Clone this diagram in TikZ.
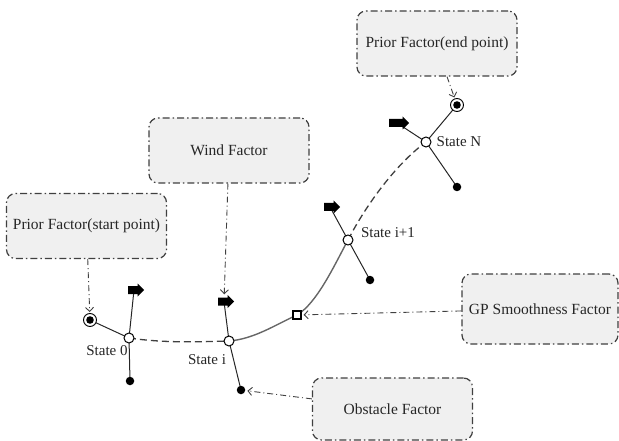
\documentclass[tikz,border=0pt]{standalone}
\usepackage{fontspec}
\setmainfont{Liberation Serif}
\usetikzlibrary{shapes.arrows,arrows.meta,calc,backgrounds}
\begin{document}
\begin{tikzpicture}[x=1pt,y=-1pt,
 factor/.style={draw=black!75, line width=1.2pt, dash pattern=on 7pt off 3pt on 1.5pt off 3pt, rounded corners=9pt, fill=black!6, minimum width=160pt, minimum height=65pt, text=black!85, font=\fontsize{15.5}{18}\selectfont},
 state/.style={circle, draw=black, line width=1pt, fill=white, minimum size=10pt, inner sep=0pt},
 dot/.style={circle, fill=black, minimum size=8.5pt, inner sep=0pt},
 prior/.style={circle, draw=black, line width=0.9pt, fill=white, minimum size=13pt, inner sep=0pt, path picture={\fill[black] (path picture bounding box.center) circle (3.8pt);}},
 sqnode/.style={rectangle, draw=black, line width=1.6pt, fill=white, minimum size=7.5pt, inner sep=0pt},
 heading/.style={single arrow, fill=black, minimum height=16pt, inner xsep=0pt, inner ysep=3.8pt, single arrow head extend=2.5pt, single arrow head indent=0pt},
 leg/.style={line width=1pt, black!85},
 traj/.style={line width=1.4pt, black!60},
 trajd/.style={line width=1.3pt, black!75, dash pattern=on 7pt off 4pt},
 link/.style={line width=0.9pt, black!75, dash pattern=on 6pt off 3pt on 1pt off 3pt, -{Straight Barb[length=4pt,width=8pt]}},
 lbl/.style={text=black!85, font=\fontsize{15}{18}\selectfont, inner sep=0pt}
]
\useasboundingbox (0,0) rectangle (619,441);

% factor boxes
\node[factor] (ps)  at (86.5,226)  {Prior Factor(start point)};
\node[factor] (wind) at (229,150.5) {Wind Factor};
\node[factor] (pe)  at (437,43.5)  {Prior Factor(end point)};
\node[factor, minimum width=156pt, minimum height=70pt] (gp) at (540,309) {GP Smoothness Factor};
\node[factor, minimum height=62pt] (obs) at (392.5,409) {Obstacle Factor};

% states
\node[state] (s0)  at (129,338) {};
\node[state] (si)  at (229,341) {};
\node[state] (si1) at (348,240) {};
\node[state] (sN)  at (426,142) {};
\node[sqnode] (sq) at (297,315) {};

\node[dot] (d0)  at (130,381) {};
\node[dot] (di)  at (241,390) {};
\node[dot] (di1) at (370,280) {};
\node[dot] (dN)  at (457,187) {};

\node[prior] (p0) at (90,320) {};
\node[prior] (pN) at (457,105) {};

\node[heading] (a0)  at (134,290) {};
\node[heading] (ai)  at (224,301.5) {};
\node[heading] (ai1) at (330,207) {};
\node[heading, minimum height=20pt] (aN) at (397,123) {};

\begin{scope}[on background layer]
\draw[leg] (a0.center) -- (s0.center) -- (d0.center);
\draw[leg] (p0.center) -- (s0.center);
\draw[leg] (ai.center) -- (si.center) -- (di.center);
\draw[leg] (ai1.center) -- (si1.center) -- (di1.center);
\draw[leg] (aN.center) -- (sN.center) -- (dN.center);
\draw[leg] (pN.center) -- (sN.center);
\draw[trajd] (s0.center) .. controls +(35,5) and +(-35,1) .. (si.center);
\draw[traj] (si.center) .. controls +(25,-2) and +(-22,10) .. (sq.center);
\draw[traj] (sq.center) .. controls +(20,-12) and +(-14,26) .. (si1.center);
\draw[trajd] (si1.center) .. controls +(18,-35) and +(-30,22) .. (sN.center);
\end{scope}

% labels
\node[lbl] at (107,350.5) {State 0};
\node[lbl] at (207,359.5) {State i};
\node[lbl] at (388,233) {State i+1};
\node[lbl] at (459,142) {State N};

% connectors
\draw[link, shorten >=1pt] (ps) -- (p0);
\draw[link, shorten >=3pt] (wind) -- (ai);
\draw[link, shorten >=1pt] ($(pe.south)+(10,0)$) -- (pN);
\draw[link, shorten >=2pt] (gp) -- (sq);
\draw[link, shorten >=2pt] (obs) -- (di);
\end{tikzpicture}
\end{document}
